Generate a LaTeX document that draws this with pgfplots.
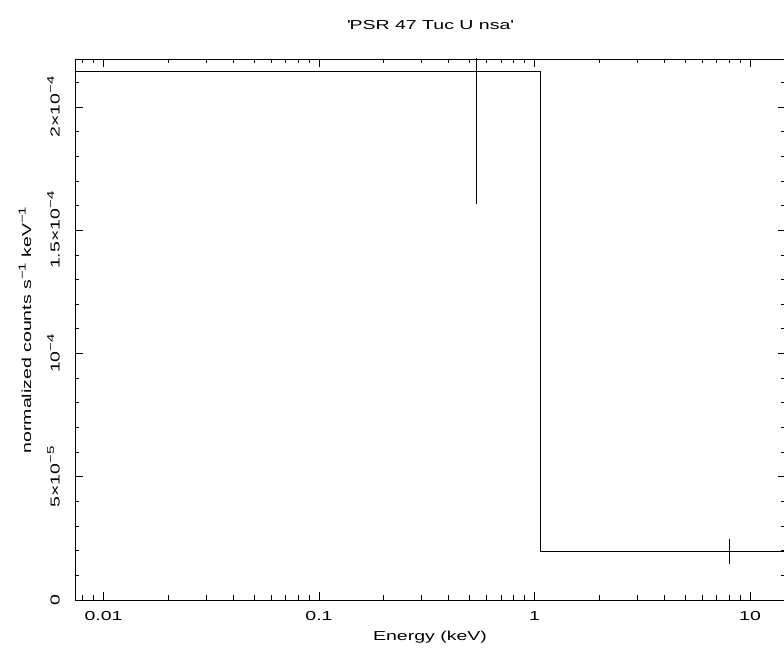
\documentclass[border=0pt]{standalone}
\usepackage{fontspec}
\setmainfont{Liberation Sans}[FakeStretch=1.5]
\usepackage{pgfplots}
\pgfplotsset{compat=1.18}
\newcommand{\sups}[1]{\raisebox{0.8ex}{\fontsize{10bp}{10bp}\selectfont #1}}
\newcommand{\lbl}{\fontsize{13bp}{13bp}\selectfont}
\begin{document}
\begin{tikzpicture}
\begin{axis}[
  at={(75bp,48bp)}, anchor=south west,
  scale only axis, width=710.5bp, height=541bp,
  xmode=log, xmin=0.007376, xmax=14.61,
  ymin=0, ymax=2.195e-4,
  axis line style={line width=0.8bp},
  every tick/.style={black, line width=0.8bp},
  major tick length=8bp, minor tick length=4.5bp,
  tick align=inside,
  xtick={0.01,0.1,1,10}, xticklabels={0.01,0.1,1,10},
  minor xtick={0.008,0.009,0.02,0.03,0.04,0.05,0.06,0.07,0.08,0.09,0.2,0.3,0.4,0.5,0.6,0.7,0.8,0.9,2,3,4,5,6,7,8,9},
  ytick={0,5e-5,1e-4,1.5e-4,2e-4},
  yticklabels={0, 5×10\sups{−5}, 10\sups{−4}, 1.5×10\sups{−4}, 2×10\sups{−4}},
  minor ytick={1e-5,2e-5,3e-5,4e-5,6e-5,7e-5,8e-5,9e-5,1.1e-4,1.2e-4,1.3e-4,1.4e-4,1.6e-4,1.7e-4,1.8e-4,1.9e-4,2.1e-4},
  scaled y ticks=false,
  ticklabel style={font=\lbl, inner sep=0pt},
  xticklabel style={anchor=north},
  xticklabel shift=11bp,
  yticklabel style={rotate=90, anchor=south},
  yticklabel shift=15bp,
]
\addplot[const plot, black, line width=0.8bp] coordinates {(0.005,2.146e-4) (1.066,1.97e-5) (20,1.97e-5)};
\addplot[draw=none, mark=none, error bars/.cd, y dir=both, y explicit, error mark=none,
  error bar style={line width=0.8bp, black}]
  coordinates {(0.535,2.146e-4) +- (0,0.54e-4) (8,1.97e-5) +- (0,0.5e-5)};
\end{axis}
\node[anchor=base, inner sep=0pt, font=\lbl] at (430bp,618bp) {\textquotesingle PSR 47 Tuc U nsa\textquotesingle};
\node[anchor=base, inner sep=0pt, font=\lbl] at (430bp,8bp) {Energy (keV)};
\node[anchor=base, rotate=90, inner sep=0pt, font=\lbl] at (31bp,318bp) {normalized counts s\sups{−1} keV\sups{−1}};
\pgfresetboundingbox
\useasboundingbox (0,0) rectangle (784bp,648bp);
\end{tikzpicture}
\end{document}
